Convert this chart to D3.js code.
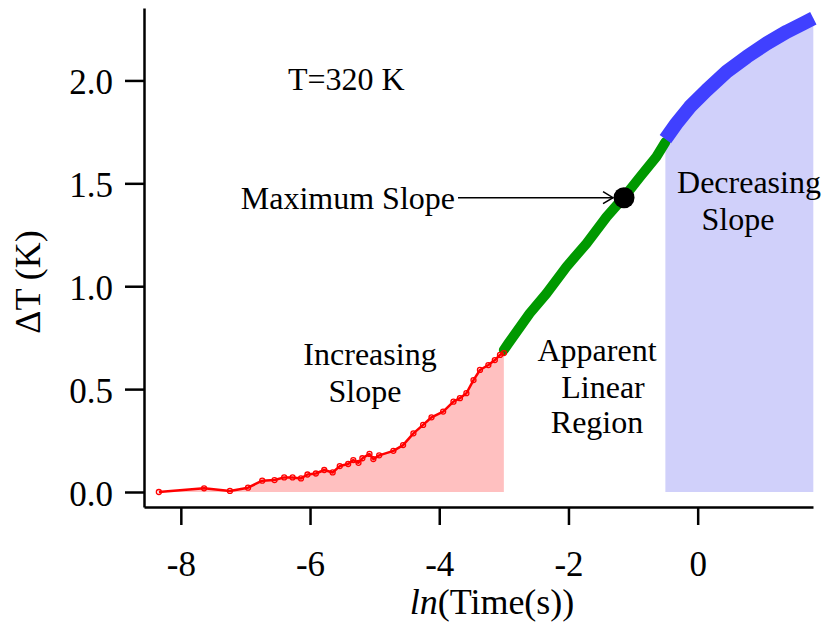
<!DOCTYPE html>
<html>
<head>
<meta charset="utf-8">
<script src="https://cdn.jsdelivr.net/npm/d3@7"></script>
<style>
  body { margin: 0; background: #fff; }
  text { font-family: "Liberation Serif", "Times New Roman", serif; fill: #000; }
</style>
</head>
<body>
<div id="chart"></div>
<script>
// Data: ln(time) and temperature rise for each region
var redX = [-8.34, -7.64, -7.24, -6.96, -6.74, -6.55, -6.40, -6.27, -6.14, -6.04, -5.91, -5.78, -5.65, -5.54, -5.41, -5.33, -5.25, -5.19, -5.08, -5.02, -4.93, -4.71, -4.56, -4.40, -4.25, -4.12, -3.94, -3.78, -3.68, -3.58, -3.47, -3.37, -3.24, -3.14, -3.06, -3.00];
var redY = [0.000, 0.018, 0.005, 0.021, 0.055, 0.058, 0.071, 0.071, 0.066, 0.085, 0.090, 0.107, 0.095, 0.126, 0.136, 0.155, 0.142, 0.164, 0.185, 0.160, 0.178, 0.200, 0.228, 0.285, 0.326, 0.363, 0.391, 0.439, 0.456, 0.480, 0.544, 0.593, 0.617, 0.641, 0.666, 0.675];

var greenX = [-3.00, -2.93, -2.60, -2.34, -2.03, -1.72, -1.41, -1.14, -0.89, -0.64, -0.50];
var greenY = [0.690, 0.722, 0.868, 0.965, 1.095, 1.208, 1.337, 1.433, 1.532, 1.629, 1.700];

var blueX = [-0.50, -0.33, -0.12, 0.14, 0.45, 0.76, 1.07, 1.38, 1.64, 1.79];
var blueY = [1.715, 1.790, 1.872, 1.953, 2.043, 2.115, 2.180, 2.237, 2.278, 2.302];

var maxSlope = { x: -1.14, y: 1.43 };

var xTicks = [-8, -6, -4, -2, 0];
var yTicks = [0, 0.5, 1.0, 1.5, 2.0];

var width = 823;
var height = 628;

var svg = d3.select("#chart")
    .append("svg")
    .attr("width", width)
    .attr("height", height);

// Scales
var x = d3.scaleLinear().domain([-8.57, 1.785]).range([144, 813]);
var y = d3.scaleLinear().domain([-0.0729, 2.352]).range([507, 8]);

function pts(xs, ys) {
    return xs.map(function(v, i) { return { x: v, y: ys[i] }; });
}
var red = pts(redX, redY);
var green = pts(greenX, greenY);
var blue = pts(blueX, blueY);

var area = d3.area()
    .x(function(d) { return x(d.x); })
    .y0(y(0))
    .y1(function(d) { return y(d.y); });

var line = d3.line()
    .x(function(d) { return x(d.x); })
    .y(function(d) { return y(d.y); });

// Shaded regions under the curve
svg.append("path").datum(red).attr("d", area).attr("fill", "#ffc0c0");
svg.append("path").datum(blue).attr("d", area).attr("fill", "#d0d0fa");

// Curves
svg.append("path").datum(green).attr("d", line)
    .attr("fill", "none").attr("stroke", "#009900")
    .attr("stroke-width", 10).attr("stroke-linecap", "round").attr("stroke-linejoin", "round");

svg.append("path").datum(blue).attr("d", line)
    .attr("fill", "none").attr("stroke", "#4040ff")
    .attr("stroke-width", 14).attr("stroke-linecap", "butt").attr("stroke-linejoin", "round");

svg.append("path").datum(red).attr("d", line)
    .attr("fill", "none").attr("stroke", "#ff0000")
    .attr("stroke-width", 2.5).attr("stroke-linejoin", "round");

svg.selectAll(".redpt")
    .data(red)
    .enter().append("circle")
    .attr("class", "redpt")
    .attr("cx", function(d) { return x(d.x); })
    .attr("cy", function(d) { return y(d.y); })
    .attr("r", 2.5)
    .attr("fill", "none")
    .attr("stroke", "#ff0000")
    .attr("stroke-width", 1.3);

// Maximum slope marker
svg.append("circle")
    .attr("cx", x(maxSlope.x))
    .attr("cy", y(maxSlope.y))
    .attr("r", 10.5)
    .attr("fill", "#000");

// Axes
var xAxis = svg.append("g")
    .attr("transform", "translate(0," + 507 + ")")
    .call(d3.axisBottom(x).tickValues(xTicks).tickSize(18).tickSizeOuter(0).tickPadding(26)
        .tickFormat(d3.format("d")));

var yAxis = svg.append("g")
    .attr("transform", "translate(" + 144 + ",0)")
    .call(d3.axisLeft(y).tickValues(yTicks).tickSize(19).tickSizeOuter(0).tickPadding(12)
        .tickFormat(d3.format(".1f")));

[xAxis, yAxis].forEach(function(g) {
    g.attr("font-family", null).attr("font-size", null);
    g.select(".domain").attr("stroke", "#000").attr("stroke-width", 2.5);
    g.selectAll(".tick line").attr("stroke", "#000").attr("stroke-width", 2.5);
    g.selectAll(".tick text")
        .style("font-family", "'Liberation Serif', 'Times New Roman', serif")
        .style("font-size", "35px")
        .attr("fill", "#000");
});
yAxis.selectAll(".tick text").attr("dy", "0.38em");
xAxis.selectAll(".tick text").text(function(d) { return d < 0 ? "-" + Math.abs(d) : d; });

// Axis titles
svg.append("text")
    .attr("transform", "translate(40,282) rotate(-90)")
    .attr("text-anchor", "middle")
    .style("font-size", "36px")
    .text("\u0394T (K)");

var xt = svg.append("text")
    .attr("x", 492)
    .attr("y", 614)
    .attr("text-anchor", "middle")
    .style("font-size", "36px");
xt.append("tspan").style("font-style", "italic").text("ln");
xt.append("tspan").text("(Time(s))");

// Annotations
svg.append("text").attr("x", 288).attr("y", 90).style("font-size", "32px").text("T=320 K");

function label(lines, cx, baselines) {
    lines.forEach(function(t, i) {
        svg.append("text")
            .attr("x", cx[i])
            .attr("y", baselines[i])
            .attr("text-anchor", "middle")
            .style("font-size", "32px")
            .text(t);
    });
}
label(["Increasing", "Slope"], [370, 365], [365, 402]);
label(["Apparent", "Linear", "Region"], [597, 603, 597], [361, 398, 433]);
label(["Decreasing", "Slope"], [749, 738], [193, 230]);

svg.append("text")
    .attr("x", 455)
    .attr("y", 209)
    .attr("text-anchor", "end")
    .style("font-size", "32px")
    .text("Maximum Slope");

// Arrow to the maximum slope point
var ay = y(maxSlope.y);
var tipX = x(maxSlope.x) - 11;
svg.append("line")
    .attr("x1", 458).attr("y1", ay).attr("x2", tipX).attr("y2", ay)
    .attr("stroke", "#000").attr("stroke-width", 1.5);
svg.append("path")
    .attr("d", "M" + (tipX - 10) + "," + (ay - 6) + "L" + tipX + "," + ay + "L" + (tipX - 10) + "," + (ay + 6))
    .attr("fill", "none").attr("stroke", "#000").attr("stroke-width", 1.5);
</script>
</body>
</html>
